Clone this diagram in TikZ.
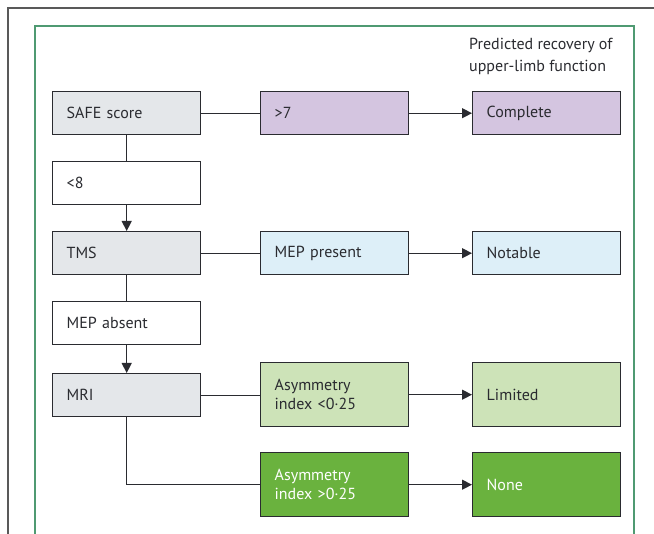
\documentclass[tikz,border=0pt]{standalone}
\usepackage{fontspec}
\setmainfont{PT Sans}
\usetikzlibrary{arrows.meta}
\definecolor{boxgrey}{HTML}{E4E7EA}
\definecolor{boxpurple}{HTML}{D4C5E0}
\definecolor{boxblue}{HTML}{DDEFF8}
\definecolor{boxlgreen}{HTML}{CDE3B8}
\definecolor{boxgreen}{HTML}{6AB23E}
\definecolor{framegreen}{HTML}{4F9A72}
\definecolor{inkdark}{HTML}{2A2B30}
\begin{document}
\begin{tikzpicture}[x=1pt,y=-1pt,
  flowbox/.style={draw=inkdark, line width=1.4pt, minimum width=147pt,
    anchor=north west, align=left, text width=120pt, inner xsep=14pt,
    font=\fontsize{16}{19}\selectfont, text=inkdark},
  shortbox/.style={flowbox, minimum height=43pt},
  tallbox/.style={flowbox, minimum height=64pt},
  link/.style={draw=inkdark, line width=1.3pt},
  arrowlink/.style={link, -{Triangle[length=10pt,width=10pt]}}]
\useasboundingbox (0,0) rectangle (654,534);
% cropped outer frame and green panel
\draw[draw=black!65, line width=1.2pt] (8,534) -- (8,8) -- (654,8);
\draw[draw=framegreen, line width=1.6pt] (35,534) -- (35,26) -- (634,26) -- (634,534);
% column heading
\node[anchor=north west, align=left, font=\fontsize{16}{22}\selectfont, text=inkdark, inner sep=0pt]
  (head) at (469,38) {Predicted recovery of\\upper-limb function};
% left column
\node[shortbox, fill=boxgrey] (safe) at (52,91) {SAFE score};
\node[shortbox, fill=white] (lt8) at (52,161) {<8};
\node[shortbox, fill=boxgrey] (tms) at (52,231) {TMS};
\node[shortbox, fill=white] (mepabs) at (52,301) {MEP absent};
\node[shortbox, fill=boxgrey] (mri) at (52,373) {MRI};
% middle column
\node[shortbox, fill=boxpurple] (gt7) at (260,91) {>7};
\node[shortbox, fill=boxblue] (meppres) at (260,231) {MEP present};
\node[tallbox, fill=boxlgreen] (asymlo) at (260,362) {Asymmetry\\index <0·25};
\node[tallbox, fill=boxgreen, text=white] (asymhi) at (260,452) {Asymmetry\\index >0·25};
% outcome column
\node[shortbox, fill=boxpurple] (complete) at (472,91) {Complete};
\node[shortbox, fill=boxblue] (notable) at (472,231) {Notable};
\node[tallbox, fill=boxlgreen] (limited) at (472,362) {Limited};
\node[tallbox, fill=boxgreen, text=white] (none) at (472,452) {None};
% connectors
\draw[link] (safe.east) -- (safe.east -| gt7.west);
\draw[arrowlink] (gt7.east) -- (complete.west);
\draw[link] (safe.south) -- (lt8.north);
\draw[arrowlink] (lt8.south) -- (tms.north);
\draw[link] (tms.east) -- (tms.east -| meppres.west);
\draw[arrowlink] (meppres.east) -- (notable.west);
\draw[link] (tms.south) -- (mepabs.north);
\draw[arrowlink] (mepabs.south) -- (mri.north);
\draw[link] (mri.east) -- (mri.east -| asymlo.west);
\draw[arrowlink] (asymlo.east) -- (limited.west);
\draw[link] (mri.south) |- (asymhi.west);
\draw[arrowlink] (asymhi.east) -- (none.west);
\end{tikzpicture}
\end{document}
